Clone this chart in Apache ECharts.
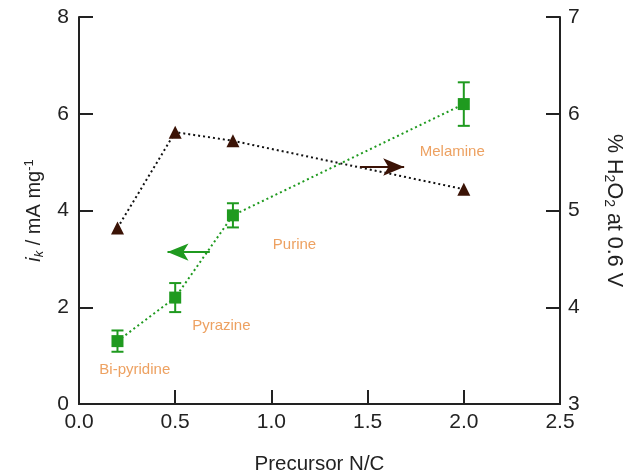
<!DOCTYPE html>
<html>
<head>
<meta charset="utf-8">
<script src="https://cdn.jsdelivr.net/npm/echarts@6/dist/echarts.min.js"></script>
<style>
  html, body { margin: 0; padding: 0; background: #fff; }
  #chart { width: 634px; height: 476px; }
</style>
</head>
<body>
<div id="chart"></div>
<script>
// Precursor N/C ratio of each nitrogen source
const precursorNC = [0.2, 0.5, 0.8, 2.0];
const precursorNames = ['Bi-pyridine', 'Pyrazine', 'Purine', 'Melamine'];
// Kinetic current i_k (mA mg^-1) with error bar limits
const ikValues = [1.3, 2.2, 3.9, 6.2];
const ikLow = [1.08, 1.9, 3.65, 5.75];
const ikHigh = [1.52, 2.5, 4.15, 6.65];
// Peroxide yield (% H2O2 at 0.6 V)
const h2o2Values = [4.82, 5.81, 5.72, 5.22];
// Where each precursor name is written (x, i_k)
const nameLabelPos = [[0.29, 0.70], [0.74, 1.61], [1.12, 3.30], [1.94, 5.22]];
// Arrows pointing at the axis each series belongs to
const ikArrow = [[0.68, 3.14], [0.46, 3.14]];
const h2o2Arrow = [[1.46, 5.45], [1.69, 5.45]];
// Tick settings
const xTicks = { min: 0, max: 2.5, interval: 0.5 };
const yLeftTicks = { min: 0, max: 8, interval: 2 };
const yRightTicks = { min: 3, max: 7, interval: 1 };

const GREEN = '#1f9a1f';
const BROWN = '#3b1306';
const ORANGE = '#e8893a';
const AXIS = '#222';
const FONT = '"Liberation Sans", Arial, sans-serif';

const chart = echarts.init(document.getElementById('chart'), null, { renderer: 'canvas' });

const axisCommon = {
  axisLine: { show: true, onZero: false, lineStyle: { color: AXIS, width: 2 } },
  axisTick: { show: true, inside: true, length: 14, lineStyle: { color: AXIS, width: 2 } },
  splitLine: { show: false },
  axisLabel: { color: AXIS, fontSize: 21, fontFamily: FONT },
  nameTextStyle: { color: AXIS, fontSize: 20, fontFamily: FONT }
};

const option = {
  backgroundColor: '#fff',
  animation: false,
  grid: { left: 79, right: 74, top: 17, bottom: 72, show: false, containLabel: false, outerBoundsMode: 'none' },
  xAxis: [{
    type: 'value', ...xTicks, ...axisCommon,
    axisLabel: { ...axisCommon.axisLabel, margin: 8, formatter: v => v.toFixed(1) },
    name: 'Precursor N/C', nameLocation: 'middle', nameGap: 50,
    nameTextStyle: { color: AXIS, fontSize: 20.5, fontFamily: FONT }
  }, {
    type: 'value', ...xTicks, position: 'top',
    axisLine: { show: true, lineStyle: { color: AXIS, width: 2 } },
    axisTick: { show: false }, axisLabel: { show: false }, splitLine: { show: false }
  }],
  yAxis: [{
    type: 'value', ...yLeftTicks, ...axisCommon, position: 'left',
    axisLabel: { ...axisCommon.axisLabel, margin: 10 },
    name: '{it|i}{sub|k}{n| / mA mg}{sup|-1}', nameLocation: 'middle', nameGap: 33, nameRotate: 90,
    nameTextStyle: {
      color: AXIS, fontSize: 20, fontFamily: FONT,
      rich: {
        it: { fontStyle: 'italic', fontSize: 20, fontFamily: FONT, color: AXIS },
        sub: { fontStyle: 'italic', fontSize: 13, fontFamily: FONT, color: AXIS, verticalAlign: 'bottom', padding: [8, 0, 0, 0] },
        n: { fontSize: 20, fontFamily: FONT, color: AXIS },
        sup: { fontSize: 13, fontFamily: FONT, color: AXIS, verticalAlign: 'top', padding: [0, 0, 10, 0] }
      }
    }
  }, {
    type: 'value', ...yRightTicks, ...axisCommon, position: 'right',
    axisLabel: { ...axisCommon.axisLabel, margin: 8 },
    name: '% H{sub|2}O{sub|2} at 0.6 V', nameLocation: 'middle', nameGap: 42, nameRotate: -90,
    nameTextStyle: {
      color: AXIS, fontSize: 21.5, fontFamily: FONT,
      rich: {
        sub: { fontSize: 14, fontFamily: FONT, color: AXIS, verticalAlign: 'bottom', padding: [9, 0, 0, 0] }
      }
    }
  }],
  series: [
    {
      // i_k vs N/C
      name: 'ik', type: 'line', xAxisIndex: 0, yAxisIndex: 0,
      data: precursorNC.map((x, i) => [x, ikValues[i]]),
      symbol: 'rect', symbolSize: 12,
      itemStyle: { color: GREEN },
      lineStyle: { color: GREEN, width: 2, type: [2, 3] },
      z: 4,
      markLine: {
        silent: true, symbol: ['none', 'arrow'], symbolSize: [13, 21],
        label: { show: false },
        lineStyle: { color: GREEN, width: 2, type: 'solid' },
        data: [[{ coord: ikArrow[0] }, { coord: ikArrow[1] }]]
      }
    },
    {
      // error bars of i_k
      name: 'ikErr', type: 'custom', xAxisIndex: 0, yAxisIndex: 0,
      data: precursorNC.map((x, i) => [x, ikLow[i], ikHigh[i]]),
      z: 3,
      renderItem: (params, api) => {
        const lo = api.coord([api.value(0), api.value(1)]);
        const hi = api.coord([api.value(0), api.value(2)]);
        const cap = 6;
        const style = { stroke: GREEN, lineWidth: 2, fill: null };
        return {
          type: 'group',
          children: [
            { type: 'line', shape: { x1: lo[0], y1: lo[1], x2: hi[0], y2: hi[1] }, style },
            { type: 'line', shape: { x1: lo[0] - cap, y1: lo[1], x2: lo[0] + cap, y2: lo[1] }, style },
            { type: 'line', shape: { x1: hi[0] - cap, y1: hi[1], x2: hi[0] + cap, y2: hi[1] }, style }
          ]
        };
      }
    },
    {
      // % H2O2 vs N/C
      name: 'h2o2', type: 'line', xAxisIndex: 0, yAxisIndex: 1,
      data: precursorNC.map((x, i) => [x, h2o2Values[i]]),
      symbol: 'triangle', symbolSize: 13,
      itemStyle: { color: BROWN },
      lineStyle: { color: '#111', width: 2, type: [2, 3] },
      z: 4,
      markLine: {
        silent: true, symbol: ['none', 'arrow'], symbolSize: [13, 21],
        label: { show: false },
        lineStyle: { color: BROWN, width: 2, type: 'solid' },
        data: [[{ coord: h2o2Arrow[0] }, { coord: h2o2Arrow[1] }]]
      }
    },
    {
      // precursor names
      name: 'names', type: 'scatter', xAxisIndex: 0, yAxisIndex: 0,
      data: nameLabelPos.map((p, i) => ({ value: p, name: precursorNames[i] })),
      symbolSize: 0, silent: true,
      label: {
        show: true, position: 'inside', formatter: p => p.name,
        color: ORANGE, fontSize: 15, fontFamily: FONT
      }
    }
  ]
};

chart.setOption(option);
</script>
</body>
</html>
